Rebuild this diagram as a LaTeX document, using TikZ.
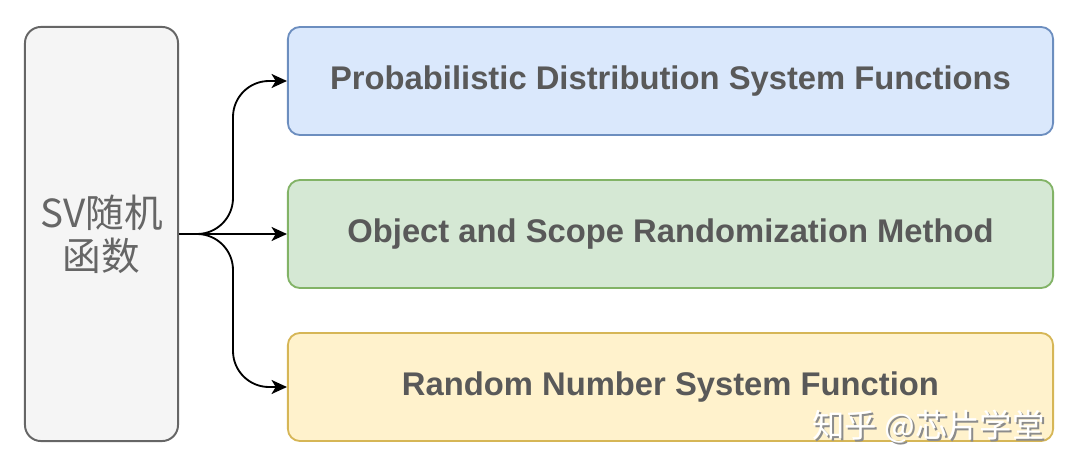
\documentclass[tikz,border=0pt]{standalone}
\usepackage{fontspec}
\setmainfont{Liberation Sans}
\newfontfamily\cjkfont{Noto Sans CJK SC}
\usetikzlibrary{arrows.meta}
\usetikzlibrary{positioning}
\definecolor{leftfill}{HTML}{F5F5F5}
\definecolor{leftline}{HTML}{666666}
\definecolor{bluefill}{HTML}{DAE8FC}
\definecolor{blueline}{HTML}{6C8EBF}
\definecolor{greenfill}{HTML}{D5E8D4}
\definecolor{greenline}{HTML}{82B366}
\definecolor{yellowfill}{HTML}{FFF2CC}
\definecolor{yellowline}{HTML}{D6B656}
\definecolor{textgray}{HTML}{595959}
\definecolor{lefttext}{HTML}{666666}
\tikzset{
	mainbox/.style={draw=leftline, fill=leftfill, line width=1.4pt, rounded corners=0.4cm,
		minimum width=3.825cm, minimum height=10.35cm, align=center, text=lefttext,
		font=\cjkfont\fontsize{27.5}{30.5}\selectfont},
	funcbox/.style={line width=1.3pt, rounded corners=0.3cm,
		minimum width=19.125cm, minimum height=2.7cm, text=textgray,
		font=\bfseries\fontsize{23.3}{27}\selectfont},
	link/.style={-{Stealth[length=11pt,width=10pt,inset=3pt]}, line width=1.3pt, black, rounded corners=0.9cm}
}

\begin{document}
\begin{tikzpicture}[x=0.025cm, y=-0.025cm]
	\useasboundingbox (0,0) rectangle (1072,473);
	
	% left box
	\node[mainbox] (sv) at (101.5,234) {SV随机\\函数};
	
	% right boxes
	\node[funcbox, draw=blueline, fill=bluefill] (prob) at (670.5,81) {Probabilistic Distribution System Functions};
	\node[funcbox, draw=greenline, fill=greenfill] (obj) at (670.5,234) {Object and Scope Randomization Method};
	\node[funcbox, draw=yellowline, fill=yellowfill] (rand) at (670.5,387) {Random Number System Function};
	
	% bend points
	\coordinate (bendup) at (233,81);
	\coordinate (benddown) at (233,387);
	
	% arrows
	\draw[link] (sv.east) -| (bendup) -- (prob.west);
	\draw[link] (sv.east) -- (obj.west);
	\draw[link] (sv.east) -| (benddown) -- (rand.west);
	
	% watermark
	\node[text=black!45, font=\cjkfont\fontsize{23}{27}\selectfont] (markshade) at (930.5,429) {知乎 @芯片学堂};
	\node[text=white, font=\cjkfont\fontsize{23}{27}\selectfont] (mark) at (928.5,427) {知乎 @芯片学堂};
\end{tikzpicture}
\end{document}
